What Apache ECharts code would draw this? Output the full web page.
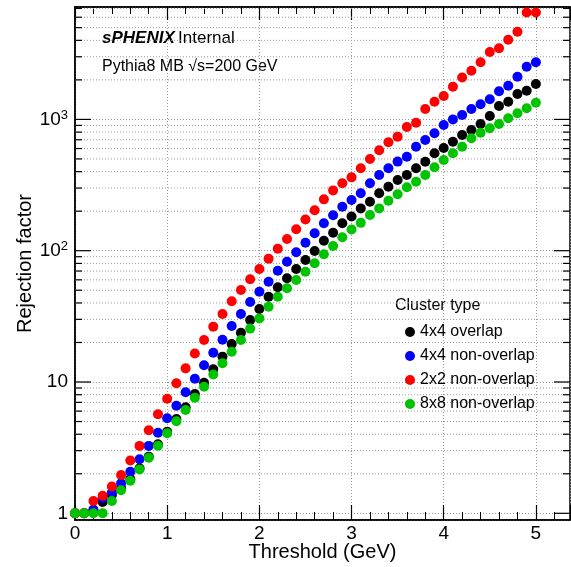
<!DOCTYPE html>
<html>
<head>
<meta charset="utf-8">
<script src="https://cdn.jsdelivr.net/npm/echarts@6/dist/echarts.min.js"></script>
<style>
  html, body { margin: 0; padding: 0; background: #fff; }
  #chart { width: 571px; height: 567px; }
</style>
</head>
<body>
<div id="chart"></div>
<script>
// threshold (GeV)
const thresholds = [0, 0.1, 0.2, 0.3, 0.4, 0.5, 0.6, 0.7, 0.8, 0.9,
  1.0, 1.1, 1.2, 1.3, 1.4, 1.5, 1.6, 1.7, 1.8, 1.9,
  2.0, 2.1, 2.2, 2.3, 2.4, 2.5, 2.6, 2.7, 2.8, 2.9,
  3.0, 3.1, 3.2, 3.3, 3.4, 3.5, 3.6, 3.7, 3.8, 3.9,
  4.0, 4.1, 4.2, 4.3, 4.4, 4.5, 4.6, 4.7, 4.8, 4.9, 5.0];

// rejection factor per cluster type
const overlap4x4 = [1, 1, 1.04, 1.22, 1.38, 1.55, 1.82, 2.2, 2.7, 3.35,
  4.18, 5.23, 6.41, 8.1, 9.88, 12.5, 15.6, 19.5, 23.7, 29.6,
  36.0, 44.6, 52.6, 61.6, 72.6, 85, 99.5, 119, 137, 162,
  182, 210, 236, 274, 307, 345, 377, 424, 476, 552,
  606, 676, 761, 830, 923, 1062, 1265, 1364, 1560, 1655, 1861];
const nonOverlap4x4 = [1, 1, 1.07, 1.30, 1.44, 1.69, 2.07, 2.58, 3.26, 4.11,
  5.3, 6.6, 8.35, 10.6, 13.4, 16.7, 21.0, 26.7, 33.0, 40.7,
  48.7, 58.1, 70.4, 82.4, 97.2, 115, 136, 162, 186, 216,
  243, 274, 326, 377, 424, 477, 520, 619, 697, 784,
  906, 1000, 1079, 1199, 1303, 1422, 1640, 1806, 2113, 2519, 2722];
const nonOverlap2x2 = [1, 1, 1.24, 1.36, 1.60, 1.96, 2.52, 3.26, 4.29, 5.68,
  7.46, 9.78, 12.7, 16.5, 20.9, 26.4, 33.0, 41.2, 50.2, 60.6,
  72.5, 86.9, 103.5, 122.8, 145.5, 173, 203, 246, 288, 326,
  362, 424, 499, 582, 670, 739, 875, 944, 1199, 1364,
  1507, 1775, 2084, 2345, 2728, 3260, 3478, 4046, 4655, 6520, 6520];
const nonOverlap8x8 = [1, 1, 1, 1, 1.24, 1.50, 1.77, 2.16, 2.65, 3.27,
  4.07, 5.02, 6.12, 7.6, 9.21, 11.4, 13.9, 17.0, 20.9, 25.5,
  30.5, 37.4, 44.6, 51.7, 59.8, 69.2, 80.2, 93.9, 108.6, 126.5,
  145, 163, 187, 210, 240, 269, 304, 335, 377, 432,
  491, 552, 620, 718, 792, 855, 923, 1019, 1113, 1216, 1340];

const seriesNames = ["4x4 overlap", "4x4 non-overlap", "2x2 non-overlap", "8x8 non-overlap"];
const seriesColors = ["#000000", "#0000ff", "#ff0000", "#00c400"];
const seriesValues = [overlap4x4, nonOverlap4x4, nonOverlap2x2, nonOverlap8x8];

// y ticks: decades and the 2..9 in between
const yMajor = [1, 10, 100, 1000];
const yMinor = [2, 3, 4, 5, 6, 7, 8, 9,
  20, 30, 40, 50, 60, 70, 80, 90,
  200, 300, 400, 500, 600, 700, 800, 900,
  2000, 3000, 4000, 5000, 6000, 7000];

const X_MIN = 0, X_MAX = 5.37;
const Y_MIN = 0.889, Y_MAX = 7180;

const FONT = "Liberation Sans";

function yLabel(v) {
  const p = Math.log10(v);
  const r = Math.round(p);
  if (Math.abs(p - r) > 1e-6) return "";
  if (r === 0) return "1";
  if (r === 1) return "10";
  return "10{s|" + r + "}";
}

// short tick marks on left/right edge (+ optional dotted grid line)
function yTickSeries(values, len, withGrid) {
  return {
    type: "custom",
    silent: true,
    z: 1,
    data: values.map(v => [X_MIN, v]),
    renderItem: (params, api) => {
      const cs = params.coordSys;
      const y = api.coord([X_MIN, api.value(1)])[1];
      const x0 = cs.x, x1 = cs.x + cs.width;
      const children = [
        { type: "line", shape: { x1: x0, y1: y, x2: x0 + len, y2: y },
          style: { stroke: "#000", lineWidth: 1.2 } },
        { type: "line", shape: { x1: x1 - len, y1: y, x2: x1, y2: y },
          style: { stroke: "#000", lineWidth: 1.2 } }
      ];
      if (withGrid) {
        children.unshift({ type: "line", shape: { x1: x0, y1: y, x2: x1, y2: y },
          style: { stroke: "#999", lineWidth: 1, lineDash: [1, 2] } });
      }
      return { type: "group", children: children };
    }
  };
}

const chart = echarts.init(document.getElementById("chart"));

const dotted = { show: true, lineStyle: { color: "#999", type: [1, 2], width: 1 } };

const option = {
  backgroundColor: "#fff",
  animation: false,
  textStyle: { fontFamily: FONT },
  grid: {
    left: 75, right: 1, top: 7, bottom: 47, containLabel: false, outerBoundsMode: "none",
    show: true, borderColor: "#000", borderWidth: 1.5, backgroundColor: "transparent"
  },
  legend: {
    orient: "vertical",
    left: 400,
    top: 319,
    itemWidth: 10,
    itemHeight: 10,
    itemGap: 8,
    icon: "circle",
    data: seriesNames,
    textStyle: { fontFamily: FONT, fontSize: 16, color: "#000", lineHeight: 16 }
  },
  graphic: [
    {
      type: "text", left: 102, top: 30,
      style: {
        text: "{a|sPHENIX} {b|Internal}",
        rich: {
          a: { fontFamily: FONT, fontSize: 17, fontWeight: "bold", fontStyle: "italic", fill: "#000" },
          b: { fontFamily: FONT, fontSize: 17, fill: "#000" }
        }
      }
    },
    {
      type: "text", left: 102, top: 59,
      style: { text: "Pythia8 MB \u221As=200 GeV", fontFamily: FONT, fontSize: 16, fill: "#000" }
    },
    {
      type: "text", left: 395, top: 298,
      style: { text: "Cluster type", fontFamily: FONT, fontSize: 16, fill: "#000" }
    }
  ],
  xAxis: [
    {
      type: "value", min: X_MIN, max: X_MAX, interval: 1,
      name: "Threshold (GeV)", nameLocation: "middle", nameGap: 22, nameMoveOverlap: false,
      nameTextStyle: { fontFamily: FONT, fontSize: 20, color: "#000" },
      axisLine: { lineStyle: { color: "#000", width: 1.5 } },
      axisTick: { inside: true, length: 15, lineStyle: { color: "#000", width: 1.2 } },
      minorTick: { show: true, splitNumber: 5, length: 8, lineStyle: { color: "#000", width: 1 } },
      axisLabel: {
        fontFamily: FONT, fontSize: 19, color: "#000", margin: 4,
        formatter: v => (Math.abs(v - Math.round(v)) < 1e-6 ? String(Math.round(v)) : "")
      },
      splitLine: dotted
    },
    {
      type: "value", position: "top", min: X_MIN, max: X_MAX, interval: 1,
      axisLine: { lineStyle: { color: "#000", width: 1.5 } },
      axisTick: { inside: true, length: 13, lineStyle: { color: "#000", width: 1.2 } },
      minorTick: { show: true, splitNumber: 5, length: 7, lineStyle: { color: "#000", width: 1 } },
      axisLabel: { show: false },
      splitLine: { show: false }
    }
  ],
  yAxis: {
    type: "log", logBase: 10, min: Y_MIN, max: Y_MAX,
    name: "Rejection factor", nameLocation: "middle", nameGap: 40, nameRotate: 90, nameMoveOverlap: false,
    nameTextStyle: { fontFamily: FONT, fontSize: 20, color: "#000" },
    axisLine: { lineStyle: { color: "#000", width: 1.5 } },
    axisTick: { show: false },
    axisLabel: {
      fontFamily: FONT, fontSize: 19, color: "#000", margin: 7, formatter: yLabel,
      rich: { s: { fontFamily: FONT, fontSize: 13, color: "#000", verticalAlign: "top", padding: [0, 0, 8, 0] } }
    },
    splitLine: dotted
  },
  series: [
    yTickSeries(yMajor, 16, false),
    yTickSeries(yMinor, 7, true)
  ].concat(seriesNames.map((name, i) => ({
    name: name,
    type: "scatter",
    z: 3,
    symbol: "circle",
    symbolSize: 10,
    itemStyle: { color: seriesColors[i], opacity: 1 },
    data: thresholds.map((t, j) => [t, seriesValues[i][j]])
  })))
};

chart.setOption(option);
</script>
</body>
</html>
